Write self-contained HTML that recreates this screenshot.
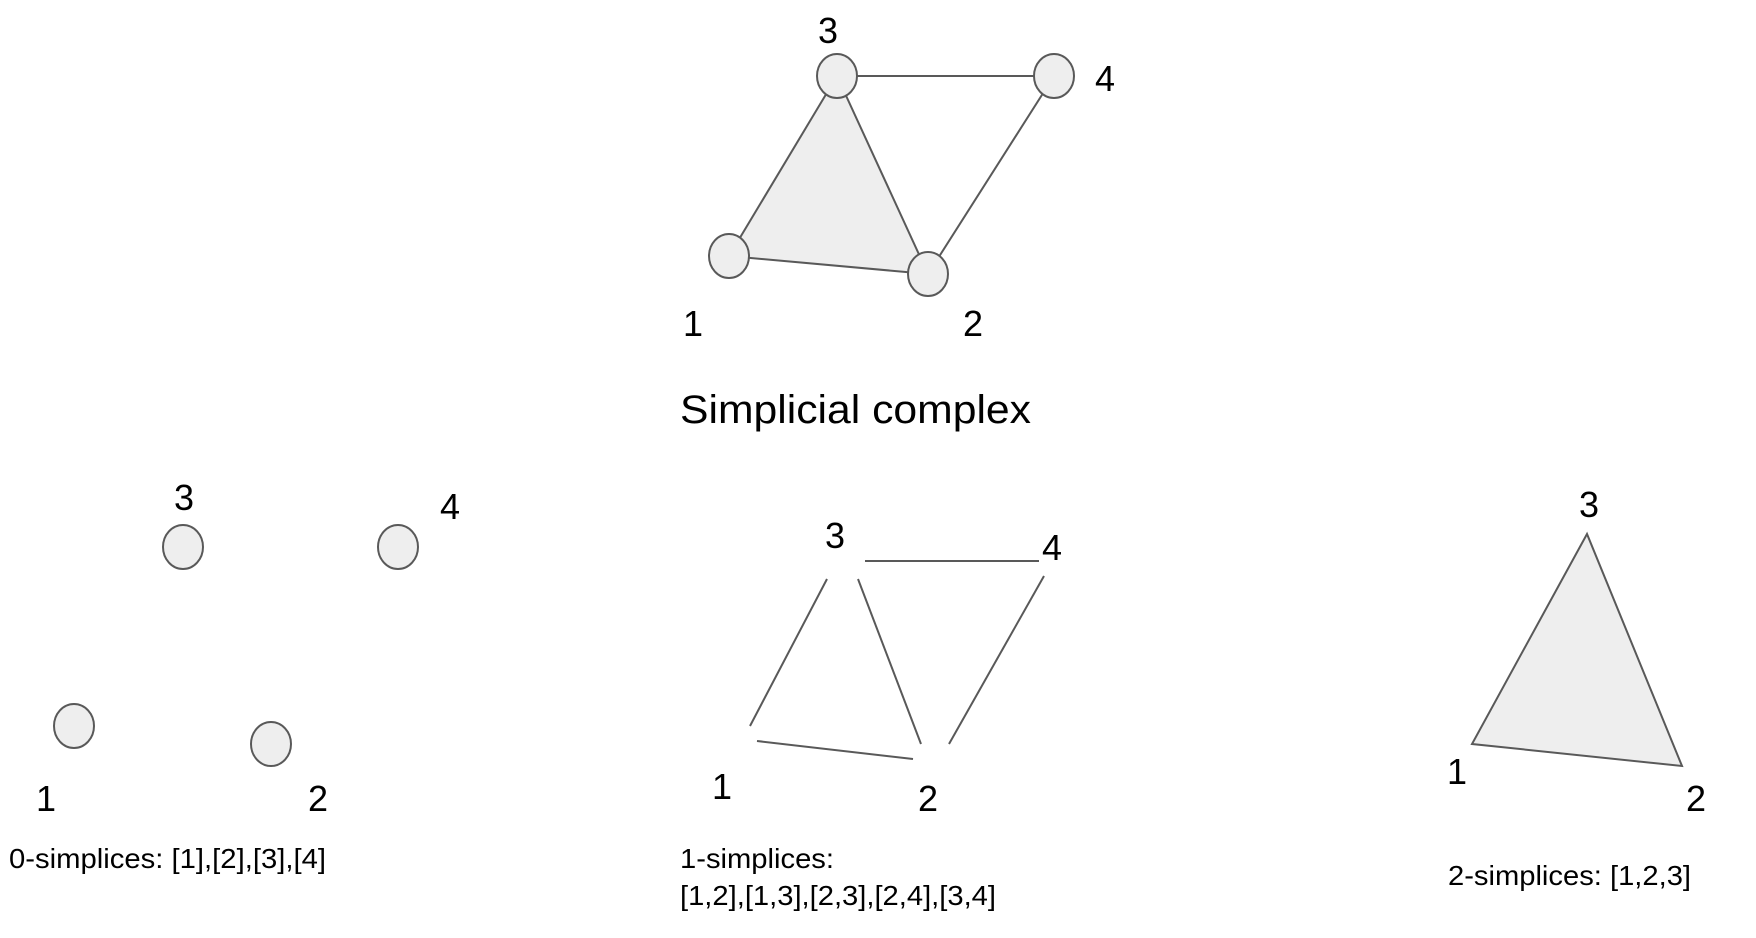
<!DOCTYPE html>
<html><head><meta charset="utf-8"><style>
html,body{margin:0;padding:0;background:#fff;width:1756px;height:938px;overflow:hidden}
svg{display:block}
text{font-family:"Liberation Sans",Arial,sans-serif;fill:#000}
</style></head><body>
<svg width="1756" height="938" viewBox="0 0 1756 938" xmlns="http://www.w3.org/2000/svg">
<g stroke="#595959" stroke-width="2" fill="#eeeeee">
<polygon points="729,256 837,76 928,274" stroke="none"/>
<line x1="837" y1="76" x2="1054" y2="76"/>
<line x1="729" y1="256" x2="837" y2="76"/>
<line x1="837" y1="76" x2="928" y2="274"/>
<line x1="1054" y1="76" x2="928" y2="274"/>
<line x1="729" y1="256" x2="928" y2="274"/>
<ellipse cx="837" cy="76" rx="20" ry="22"/>
<ellipse cx="1054" cy="76" rx="20" ry="22"/>
<ellipse cx="729" cy="256" rx="20" ry="22"/>
<ellipse cx="928" cy="274" rx="20" ry="22"/>

<ellipse cx="183" cy="547" rx="20" ry="22"/>
<ellipse cx="398" cy="547" rx="20" ry="22"/>
<ellipse cx="74" cy="726" rx="20" ry="22"/>
<ellipse cx="271" cy="744" rx="20" ry="22"/>

<line x1="865" y1="561" x2="1039" y2="561"/>
<line x1="750" y1="726" x2="827" y2="579"/>
<line x1="858" y1="579" x2="921" y2="744"/>
<line x1="1044" y1="576" x2="949" y2="744"/>
<line x1="757" y1="741" x2="913" y2="759"/>

<polygon points="1587,534 1472,744 1682,766"/>
</g>
<g font-size="36">
<text x="818" y="43">3</text>
<text x="1095" y="91">4</text>
<text x="683" y="336">1</text>
<text x="963" y="336">2</text>
<text x="174" y="510">3</text>
<text x="440" y="519">4</text>
<text x="36" y="811">1</text>
<text x="308" y="811">2</text>
<text x="825" y="548">3</text>
<text x="1042" y="560">4</text>
<text x="712" y="799">1</text>
<text x="918" y="811">2</text>
<text x="1579" y="517">3</text>
<text x="1447" y="784">1</text>
<text x="1686" y="811">2</text>
</g>
<text x="680" y="423" font-size="40" textLength="351" lengthAdjust="spacingAndGlyphs">Simplicial complex</text>
<g font-size="28">
<text x="9" y="868" textLength="317" lengthAdjust="spacingAndGlyphs">0-simplices: [1],[2],[3],[4]</text>
<text x="680" y="868" textLength="154" lengthAdjust="spacingAndGlyphs">1-simplices:</text>
<text x="680" y="905" textLength="316" lengthAdjust="spacingAndGlyphs">[1,2],[1,3],[2,3],[2,4],[3,4]</text>
<text x="1448" y="885" textLength="243" lengthAdjust="spacingAndGlyphs">2-simplices: [1,2,3]</text>
</g>
</svg>
</body></html>
